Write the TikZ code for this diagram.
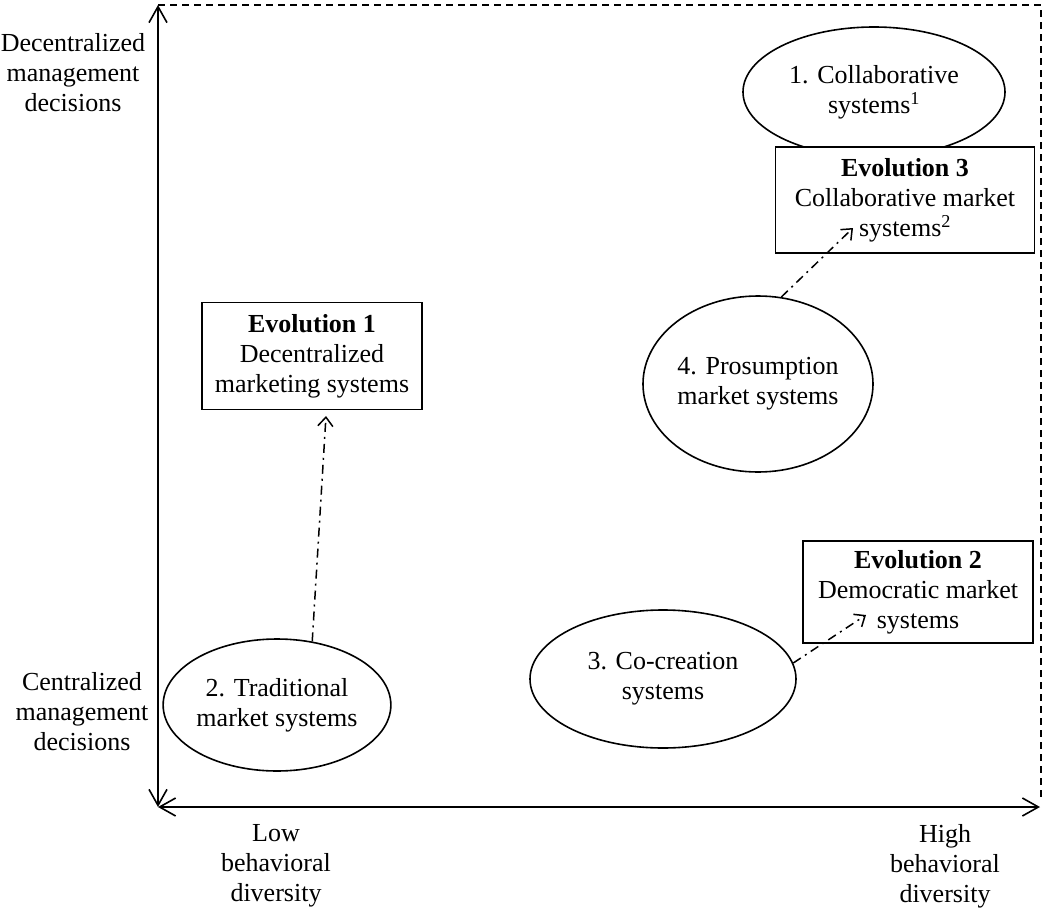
\documentclass[tikz,border=0pt]{standalone}
\usepackage{fontspec}
\setmainfont{Liberation Serif}
\usetikzlibrary{arrows.meta,shapes.geometric}
\begin{document}
\begin{tikzpicture}[x=1pt,y=-1pt,
  txt/.style={font=\fontsize{26}{30}\selectfont, align=center, inner sep=0pt},
  ell/.style={ellipse, draw, line width=1.6pt, fill=white, inner sep=0pt, font=\fontsize{26}{30}\selectfont, align=center},
  evo/.style={rectangle, draw, line width=1.6pt, fill=white, inner sep=0pt, font=\fontsize{26}{30}\selectfont, align=center},
  axis/.style={line width=1.6pt, {Straight Barb[length=16pt,width=18pt]}-{Straight Barb[length=16pt,width=18pt]}},
  evarrow/.style={line width=1.5pt, dash pattern=on 9pt off 5pt on 2pt off 5pt, -{Straight Barb[length=9pt,width=15pt]}},
  frame/.style={line width=1.6pt, dash pattern=on 7pt off 5pt}]
\useasboundingbox (0,0) rectangle (1045,913);
% axes and frame
\coordinate (O) at (158,807);
\coordinate (T) at (158,5);
\coordinate (R) at (1040,807);
\coordinate (TR) at (1041,5);
\coordinate (BR) at (1041,800);
\draw[frame] (T) -- (TR) -- (BR);
\draw[axis] (O) -- (T);
\draw[axis] (O) -- (R);
% axis labels
\node[txt] (dec) at (73,73) {Decentralized\\management\\decisions};
\node[txt] (cen) at (82,712) {Centralized\\management\\decisions};
\node[txt] (low) at (276,866) {Low\\behavioral\\diversity};
\node[txt] (high) at (945,866) {High\\behavioral\\diversity};
% ellipses
\node[ell, minimum width=262pt, minimum height=130pt] (collab) at (874,92) {1. Collaborative\\systems\textsuperscript{1}};
\node[ell, minimum width=230pt, minimum height=176pt] (pros) at (758,384) {4. Prosumption\\market systems};
\node[ell, minimum width=224pt, minimum height=132pt] (trad) at (277,705) {2. Traditional\\market systems};
\node[ell, minimum width=266pt, minimum height=138pt] (cocr) at (663,679) {3. Co-creation\\systems};
% evolution boxes
\node[evo, minimum width=220pt, minimum height=107pt] (evo1) at (312,356) {\textbf{Evolution 1}\\Decentralized\\marketing systems};
\node[evo, minimum width=259pt, minimum height=106pt] (evo3) at (905,200) {\textbf{Evolution 3}\\Collaborative market\\systems\textsuperscript{2}};
\node[evo, minimum width=230pt, minimum height=102pt] (evo2) at (918,592) {\textbf{Evolution 2}\\Democratic market\\systems};
% evolution arrows
\coordinate (a1) at (326,416);
\coordinate (a3) at (853,228);
\coordinate (a2) at (866,615);
\draw[evarrow] (trad.61) -- (a1);
\draw[evarrow] (pros.75) -- (a3);
\draw[evarrow] (cocr.7) -- (a2);
\end{tikzpicture}
\end{document}
